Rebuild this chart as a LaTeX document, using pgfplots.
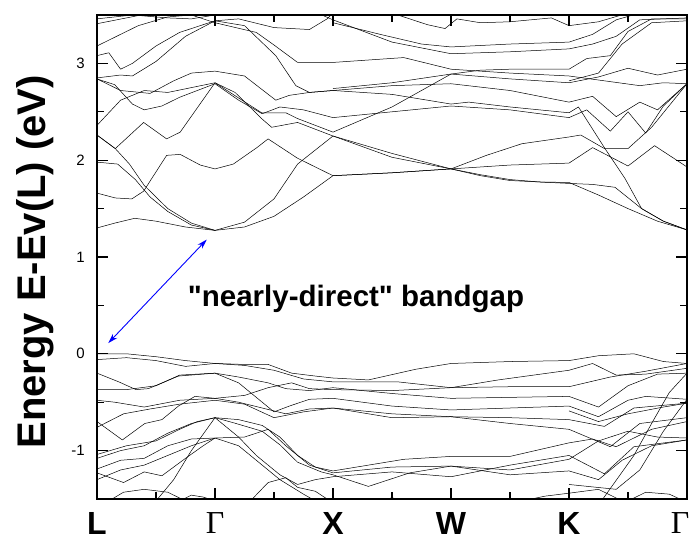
\documentclass[border=0pt]{standalone}
\usepackage{fontspec}
\setmainfont{Liberation Sans}
\newfontfamily\annfont{Liberation Sans}
\newfontfamily\gammafont{Liberation Serif}
\usepackage{pgfplots}
\pgfplotsset{compat=1.18}
\usetikzlibrary{arrows.meta}
\begin{document}
\begin{tikzpicture}
\begin{axis}[
  scale only axis, width=590pt, height=484pt,
  xmin=0, xmax=10, ymin=-1.5, ymax=3.5,
  xtick={0,2,4,6,8,10},
  xticklabels={\bfseries L,{\gammafont Γ},\bfseries X,\bfseries W,\bfseries K,{\gammafont Γ}\hspace*{14pt}},
  minor xtick={1,3,5,7,9},
  ytick={-1,0,1,2,3}, yticklabels={-1,0,1,2,3},
  minor ytick={-0.5,0.5,1.5,2.5},
  tick align=inside,
  major tick length=11pt, minor tick length=7pt,
  tick style={black, line width=1.2pt},
  axis line style={line width=1.4pt, black},
  xticklabel style={font=\fontsize{32}{36}\selectfont, anchor=north, inner sep=0pt, yshift=-13pt},
  yticklabel style={font=\fontsize{15}{18}\selectfont, anchor=east, inner sep=0pt, xshift=-12pt},
  ylabel={Energy E-Ev(L) (eV)},
  ylabel style={font=\fontsize{40}{44}\selectfont\bfseries, at={(axis description cs:-0.088,0.49)}, anchor=base, inner sep=0pt},
  b/.style={black, line width=0.5pt, line join=round, mark=none},
]
% ---------------- conduction bands ----------------
\addplot[b] coordinates {(0,1.30)(0.3,1.35)(0.64,1.40)(1.0,1.37)(1.5,1.31)(2,1.275)(2.5,1.31)(3,1.42)(3.5,1.62)(4,1.84)(5,1.87)(6,1.91)(6.5,1.85)(7,1.80)(7.5,1.775)(8,1.77)(8.5,1.64)(9,1.50)(9.5,1.37)(10,1.28)};
\addplot[b] coordinates {(0,2.26)(0.31,2.12)(0.55,1.96)(0.8,1.74)(1.2,1.50)(1.6,1.35)(2,1.275)(2.5,1.36)(3,1.60)(3.4,1.96)(4,2.25)(4.5,2.14)(5,2.03)(6,1.91)(6.5,1.84)(7,1.79)(8,1.76)(8.4,1.75)(8.78,1.72)(9.23,1.50)(9.6,1.37)(10,1.28)};
\addplot[b] coordinates {(0,1.66)(0.31,1.61)(0.59,1.60)(0.79,1.68)(1.18,2.05)(1.41,2.06)(1.75,1.95)(2,1.91)(2.31,1.96)(2.71,2.13)(2.9,2.22)(3.4,2.02)(4,1.84)(5,1.87)(6,1.91)(7,1.95)(8,1.97)(8.4,2.13)(9,1.94)(9.45,2.15)(10,1.93)};
\addplot[b] coordinates {(0,2.26)(0.31,2.12)(0.79,2.39)(1.18,2.22)(1.41,2.29)(2,2.80)(2.34,2.70)(2.79,2.43)(2.96,2.34)(3.4,2.39)(4,2.25)(5,2.07)(6,1.91)(6.6,2.05)(7.2,2.17)(8,2.24)(8.2,2.26)(8.6,2.12)(9.0,2.12)(9.4,2.34)(10,2.79)};
\addplot[b] coordinates {(0,2.84)(0.4,2.72)(0.9,2.69)(1.3,2.82)(1.6,2.90)(2,2.92)(2.5,2.87)(3.03,2.62)(3.26,2.67)(3.6,2.70)(4,2.72)(5,2.77)(6,2.79)(7,2.72)(8,2.60)(8.4,2.66)(8.8,2.45)(9.2,2.60)(9.5,2.52)(10,2.79)};
\addplot[b] coordinates {(0,2.36)(0.4,2.62)(0.8,2.72)(1.2,2.70)(1.6,2.75)(2,2.80)(2.79,2.49)(3.2,2.49)(3.4,2.43)(4,2.29)(5,2.55)(6,2.89)(6.5,2.93)(7,2.94)(8,2.94)(8.3,3.05)(8.7,3.08)(9.0,3.33)(9.4,3.46)(10,3.46)};
\addplot[b] coordinates {(0,2.84)(0.3,2.78)(0.6,2.58)(0.8,2.52)(1.1,2.56)(1.4,2.65)(2,2.79)(2.4,2.62)(2.8,2.48)(3.1,2.55)(3.5,2.52)(4,2.44)(5,2.50)(6,2.56)(7,2.52)(8,2.44)(8.3,2.52)(8.7,2.30)(9.0,2.50)(9.3,2.28)(9.6,2.56)(10,2.79)};
\addplot[b] coordinates {(0,3.08)(0.2,3.11)(0.4,2.94)(0.6,3.00)(1.0,3.18)(1.4,3.32)(2,3.44)(2.5,3.39)(3.03,3.08)(3.37,2.77)(3.6,2.70)(4,2.72)(5,2.68)(6,2.58)(6.3,2.60)(7,2.55)(8,2.49)(8.16,2.55)(8.61,2.12)(8.95,1.81)(9.23,1.50)(9.6,1.37)(10,1.28)};
\addplot[b] coordinates {(0,3.18)(0.3,3.27)(0.7,3.39)(1.2,3.48)(1.6,3.50)(2,3.42)(2.7,3.32)(3.0,3.19)(3.4,3.01)(4,3.01)(5.2,3.06)(6,2.94)(7,2.90)(8,2.87)(8.6,2.82)(9.2,2.77)(9.6,2.80)(10,2.79)};
\addplot[b] coordinates {(0,2.85)(0.4,2.88)(0.6,2.87)(1.0,3.02)(1.5,3.28)(2,3.44)(2.4,3.46)(3.0,3.37)(3.6,3.35)(3.9,3.46)(4,3.52)};
\addplot[b] coordinates {(0,3.41)(0.5,3.47)(1,3.53)};
\addplot[b] coordinates {(0,3.46)(0.6,3.50)(1.2,3.47)(1.6,3.46)(2,3.50)};
\addplot[b] coordinates {(3.7,3.53)(4,3.45)(5,3.22)(6,3.10)(7,3.12)(8,3.15)(8.4,3.20)(8.8,3.28)(9.2,3.45)(10,3.47)};
\addplot[b] coordinates {(4,3.42)(4.8,3.30)(5.5,3.20)(6,3.17)(7,3.20)(8,3.22)(8.4,3.30)(8.8,3.45)(9.2,3.52)};
\addplot[b] coordinates {(5,3.52)(5.6,3.40)(5.9,3.36)(6.1,3.46)(6.5,3.42)(7,3.43)(7.7,3.47)(8,3.39)(8.5,3.43)(9,3.52)};
\addplot[b] coordinates {(8,2.82)(8.5,2.90)(8.9,3.20)(9.4,3.42)(10,3.44)};
\addplot[b] coordinates {(4,2.74)(5,2.80)(6,2.89)(7,2.84)(8,2.80)(8.5,2.86)(9.0,2.95)(9.5,2.88)(10,2.94)};
\addplot[b] coordinates {(0,1.98)(0.35,1.96)(0.65,1.80)(0.9,1.62)(1.2,1.47)(1.6,1.33)(2,1.275)};
% ---------------- valence bands ----------------
\addplot[b] coordinates {(0,0.00)(0.5,0.00)(1.0,-0.03)(1.5,-0.07)(2,-0.10)(2.5,-0.11)(2.9,-0.11)(3.3,-0.20)(3.7,-0.23)(4,-0.25)(4.6,-0.27)(5.4,-0.16)(6,-0.10)(7,-0.08)(8,-0.07)(8.5,-0.02)(9.1,0.00)(9.6,-0.08)(10,-0.10)};
\addplot[b] coordinates {(0,-0.06)(0.5,-0.04)(1.0,-0.07)(1.5,-0.13)(2,-0.10)(2.5,-0.12)(3.0,-0.17)(3.5,-0.26)(4,-0.29)(5.1,-0.29)(6,-0.35)(6.8,-0.27)(8,-0.17)(8.4,-0.10)(8.8,-0.22)(9.3,-0.21)(10,-0.15)};
\addplot[b] coordinates {(0,-0.20)(0.37,-0.29)(0.66,-0.37)(0.87,-0.36)(1.38,-0.23)(2,-0.20)(2.4,-0.24)(2.9,-0.30)(3.2,-0.36)(3.6,-0.38)(4,-0.35)(5,-0.41)(6,-0.46)(7,-0.45)(8,-0.44)(8.5,-0.55)(9.0,-0.33)(9.5,-0.21)(10,-0.20)};
\addplot[b] coordinates {(0,-0.37)(0.5,-0.37)(1.0,-0.33)(1.4,-0.22)(2,-0.20)(2.4,-0.30)(3.0,-0.60)(3.26,-0.54)(3.6,-0.47)(4,-0.46)(5,-0.54)(6,-0.58)(7,-0.56)(8,-0.54)(8.5,-0.65)(9.0,-0.48)(9.3,-0.44)(10,-0.47)};
\addplot[b] coordinates {(0,-0.48)(0.3,-0.50)(0.8,-0.55)(1.4,-0.48)(2,-0.46)(2.5,-0.43)(2.9,-0.35)(3.3,-0.30)(3.6,-0.36)(4,-0.37)(5,-0.38)(6,-0.35)(7,-0.34)(8,-0.34)(8.7,-0.24)(9.3,-0.18)(10,-0.10)};
\addplot[b] coordinates {(0,-0.70)(0.43,-0.89)(0.81,-0.72)(1.1,-0.68)(1.38,-0.54)(1.66,-0.44)(2,-0.46)(2.4,-0.50)(2.8,-0.56)(3.2,-0.62)(3.6,-0.57)(4,-0.56)(5,-0.66)(6,-0.65)(7,-0.72)(8,-0.78)(8.7,-0.96)(9.2,-0.72)(10,-0.66)};
\addplot[b] coordinates {(0,-0.76)(0.45,-0.62)(0.9,-0.57)(1.4,-0.52)(2,-0.48)(2.5,-0.52)(3.0,-0.66)(3.5,-0.60)(4,-0.56)(5,-0.62)(6,-0.65)(7,-0.66)(8,-0.68)(8.6,-0.75)(9.1,-0.56)(10,-0.51)};
\addplot[b] coordinates {(0,-1.04)(0.5,-0.95)(1.0,-0.90)(1.4,-0.78)(1.7,-0.70)(2,-0.66)(2.4,-0.68)(2.8,-0.74)(3.1,-0.86)(3.4,-1.05)(3.7,-1.17)(4,-1.21)(4.6,-1.15)(5.2,-1.09)(6,-1.06)(7,-1.06)(8,-0.92)(8.4,-0.88)(8.8,-0.96)(9.4,-0.78)(10,-0.70)};
\addplot[b] coordinates {(0,-1.08)(0.4,-1.00)(0.8,-0.95)(1.2,-0.82)(1.6,-0.72)(2,-0.66)(2.3,-0.71)(2.8,-0.80)(3.1,-0.94)(3.4,-1.12)(3.8,-1.22)(4,-1.25)(4.6,-1.37)(5.3,-1.23)(6,-1.16)(7,-1.20)(8,-1.09)(8.5,-0.90)(9.0,-0.80)(9.5,-0.86)(10,-0.87)};
\addplot[b] coordinates {(1.0,-1.52)(1.3,-1.30)(1.6,-1.00)(2,-0.66)(2.4,-0.86)(2.7,-1.05)(3.1,-1.25)(3.4,-1.35)(3.7,-1.30)(4,-1.27)(5,-1.22)(6,-1.27)(7,-1.15)(8,-1.05)(8.6,-1.24)(9.1,-0.96)(10,-0.89)};
\addplot[b] coordinates {(0,-1.19)(0.4,-1.10)(0.8,-1.08)(1.2,-0.95)(1.6,-0.88)(2,-0.87)(2.5,-0.86)(2.9,-0.78)(3.2,-0.95)(3.6,-1.15)(4,-1.23)(5,-1.17)(6,-1.16)(7,-1.25)(8,-1.21)(8.5,-1.30)(8.9,-1.10)(9.4,-0.95)(10,-0.89)};
\addplot[b] coordinates {(0,-1.23)(0.45,-1.33)(0.8,-1.22)(1.1,-1.26)(1.5,-1.08)(1.8,-0.95)(2,-0.87)};
\addplot[b] coordinates {(0,-1.30)(0.4,-1.20)(0.8,-1.15)(1.2,-1.05)(1.6,-0.95)(2,-0.87)(2.4,-0.95)(2.8,-1.15)(3.1,-1.30)(3.5,-1.45)(3.7,-1.52)};
\addplot[b] coordinates {(0.2,-1.52)(0.45,-1.43)(0.8,-1.40)(1.2,-1.43)(1.5,-1.52)};
\addplot[b] coordinates {(2.6,-1.52)(2.9,-1.33)(3.2,-1.28)(3.4,-1.38)(3.7,-1.42)(3.95,-1.52)};
\addplot[b] coordinates {(1.4,-1.52)(1.6,-1.46)(1.8,-1.48)(2.0,-1.52)};
\addplot[b] coordinates {(8.55,-1.52)(9.1,-1.05)(9.4,-0.72)(9.7,-0.40)(10,-0.20)};
\addplot[b] coordinates {(8,-1.35)(8.8,-1.40)(9.2,-1.20)(9.6,-0.80)(10,-0.47)};
\addplot[b] coordinates {(7.2,-1.52)(7.6,-1.47)(8,-1.44)(8.5,-1.40)(8.9,-1.52)};
\addplot[b] coordinates {(9.0,-1.52)(9.3,-1.43)(9.7,-1.45)(9.95,-1.52)};
\addplot[b] coordinates {(4.6,-1.52)(5.0,-1.49)(5.4,-1.52)};
\addplot[b] coordinates {(8,-0.59)(8.5,-0.70)(9.0,-0.62)(9.6,-0.55)(10,-0.51)};
% ---------------- annotation ----------------
\draw[blue, line width=0.9pt, {Stealth[length=10pt,width=6pt]}-{Stealth[length=10pt,width=6pt]}] (axis cs:0.19,0.11) -- (axis cs:1.86,1.18);
\node[anchor=base, inner sep=0pt, font=\annfont\bfseries\fontsize{29.5}{34}\selectfont] at (axis cs:4.39,0.485) {"nearly-direct" bandgap};
\end{axis}
\pgfresetboundingbox
\path[use as bounding box] (-97pt,-44pt) rectangle (595pt,499pt);
\end{tikzpicture}
\end{document}
